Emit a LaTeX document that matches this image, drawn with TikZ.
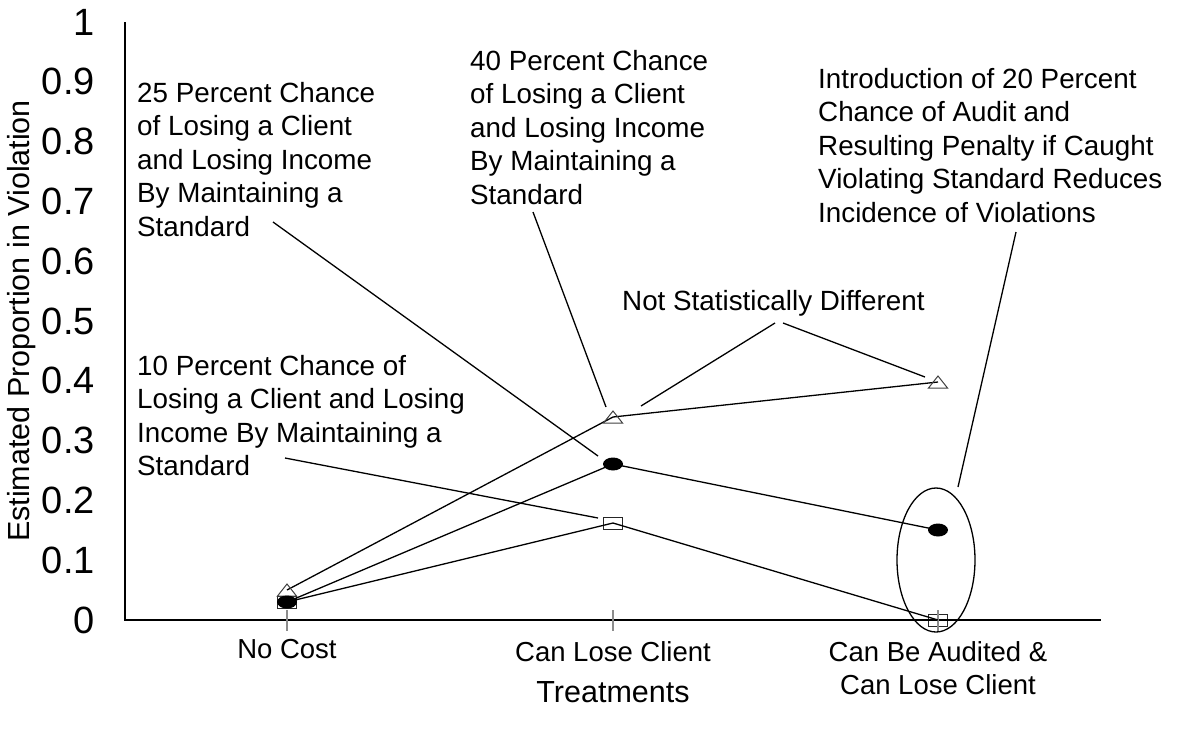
\documentclass[tikz,border=0pt]{standalone}
\usepackage{fontspec}
\setmainfont{Liberation Sans}
\usetikzlibrary{shapes.geometric}
\begin{document}
\begin{tikzpicture}[x=1pt,y=-1pt,
  axisline/.style={line width=1.3pt,black},
  tickline/.style={line width=1.3pt,black!45},
  dataline/.style={line width=1.3pt,black},
  pointer/.style={line width=1.3pt,black},
  lbl/.style={font=\fontsize{27.8}{33.5}\selectfont,inner sep=0pt,align=left,anchor=north west},
  ticklbl/.style={font=\fontsize{38}{40}\selectfont,inner sep=0pt,anchor=east},
  xlbl/.style={font=\fontsize{27.5}{33.5}\selectfont,inner sep=0pt,align=center,anchor=north},
  ttl/.style={font=\fontsize{30.5}{36}\selectfont,inner sep=0pt},
  trimark/.style={line width=1pt,black!75,fill=none},
  sqmark/.style={line width=1pt,black!85,fill=none},
  dotmark/.style={fill=black,draw=none}
]
\useasboundingbox (0,0) rectangle (1191,740);

% data coordinates
\coordinate (tA) at (287,590);
\coordinate (tB) at (613,417);
\coordinate (tC) at (938,382);
\coordinate (cA) at (287,602);
\coordinate (cB) at (613,464);
\coordinate (cC) at (938,530);
\coordinate (sA) at (287,602);
\coordinate (sB) at (613,523);
\coordinate (sC) at (938,620);

% squares (below axis)
\foreach \p in {sA,sB,sC}{
  \draw[sqmark] ([shift={(-9.5,-6)}]\p) rectangle ([shift={(9.5,6)}]\p);
}

% axes
\draw[axisline] (125,22) -- (125,620) -- (1101,620);
\foreach \x in {287,613,938}{
  \draw[tickline] (\x,610) -- (\x,631);
}

% tick labels
\foreach \v/\t in {0/0,1/0.1,2/0.2,3/0.3,4/0.4,5/0.5,6/0.6,7/0.7,8/0.8,9/0.9,10/1}{
  \node[ticklbl] (yl\v) at (95,{620-59.8*\v}) {\t};
}

% data lines
\draw[dataline] (tA) -- (tB) -- (tC);
\draw[dataline] (cA) -- (cB) -- (cC);
\draw[dataline] (sA) -- (sB) -- (sC);

% triangle markers
\foreach \p in {tA,tB,tC}{
  \draw[trimark] ([shift={(-9.5,6)}]\p) -- ([shift={(9.5,6)}]\p) -- ([shift={(0,-6)}]\p) -- cycle;
}
% filled ellipse markers
\foreach \p in {cA,cB,cC}{
  \fill[dotmark] (\p) ellipse [x radius=10,y radius=6.5];
}

% ellipse around audited points
\node[draw,line width=1.3pt,ellipse,minimum width=78,minimum height=144,inner sep=0pt] (ring) at (936,560) {};

% axis labels
\node[xlbl] (xl1) at (287,639) {No Cost};
\node[xlbl] (xl2) at (613,641) {Can Lose Client};
\node[xlbl] (xl3) at (938,641) {Can Be Audited \&\\Can Lose Client};
\node[ttl] (xt) at (613,692) {Treatments};
\node[ttl,rotate=90] (yt) at (22,321) {Estimated Proportion in Violation};

% annotation labels
\node[lbl] (l25) at (137,82) {25 Percent Chance\\of Losing a Client\\and Losing Income\\By Maintaining a\\Standard};
\node[lbl] (l40) at (470,50) {40 Percent Chance\\of Losing a Client\\and Losing Income\\By Maintaining a\\Standard};
\node[lbl] (lint) at (818,68) {Introduction of 20 Percent\\Chance of Audit and\\Resulting Penalty if Caught\\Violating Standard Reduces\\Incidence of Violations};
\node[lbl] (l10) at (137,355) {10 Percent Chance of\\Losing a Client and Losing\\Income By Maintaining a\\Standard};
\node[lbl] (lns) at (622,290) {Not Statistically Different};

% pointer lines
\coordinate (p25s) at (273,222);
\coordinate (p25e) at (598,456);
\coordinate (p10s) at (285,458);
\coordinate (p10e) at (598,518);
\coordinate (p40s) at (533,212);
\coordinate (p40e) at (606,407);
\coordinate (pn1s) at (775,323);
\coordinate (pn1e) at (641,406);
\coordinate (pn2s) at (783,323);
\coordinate (pn2e) at (925,377);
\coordinate (pis) at (1016,232);
\coordinate (pie) at (958,487);
\draw[pointer] (p25s) -- (p25e);
\draw[pointer] (p10s) -- (p10e);
\draw[pointer] (p40s) -- (p40e);
\draw[pointer] (pn1s) -- (pn1e);
\draw[pointer] (pn2s) -- (pn2e);
\draw[pointer] (pis) -- (pie);
\end{tikzpicture}
\end{document}
